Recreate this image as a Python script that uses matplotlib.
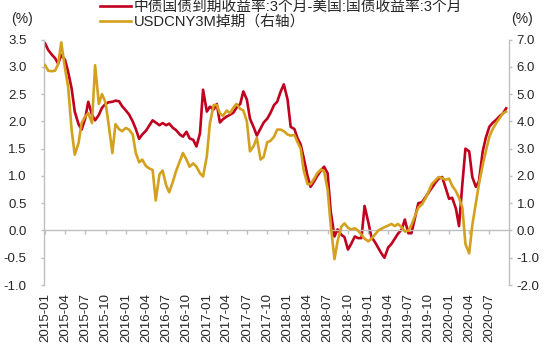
import matplotlib
matplotlib.use("Agg")
import matplotlib.pyplot as plt
import matplotlib.dates as mdates
from matplotlib.ticker import MultipleLocator, FormatStrFormatter
import pandas as pd

plt.rcParams['font.family'] = ['Liberation Sans', 'Noto Sans CJK SC', 'DejaVu Sans']

# 中美3个月国债收益率利差（%，左轴），半月频
spread = [
    3.43, 3.31, 3.22, 3.16, 3.06, 3.22, 3.13, 2.91, 2.60, 2.18,
    1.95, 1.85, 2.05, 2.36, 2.12, 2.02, 2.12, 2.25, 2.32, 2.35,
    2.36, 2.38, 2.37, 2.28, 2.20, 2.13, 2.00, 1.86, 1.68, 1.76,
    1.83, 1.92, 2.02, 1.98, 1.93, 1.97, 1.93, 1.96, 1.88, 1.84,
    1.76, 1.72, 1.81, 1.69, 1.66, 1.54, 1.78, 2.58, 2.18, 2.27,
    2.22, 2.32, 1.98, 2.04, 2.09, 2.12, 2.16, 2.25, 2.32, 2.55,
    2.40, 2.05, 1.89, 1.74, 1.87, 1.98, 2.05, 2.15, 2.30, 2.36,
    2.55, 2.68, 2.40, 1.90, 1.86, 1.69, 1.58, 1.33, 1.00, 0.80,
    0.90, 1.00, 1.10, 1.17, 1.05, 0.35, -0.11, 0.02, -0.08, -0.12,
    -0.35, -0.25, -0.11, -0.14, -0.14, 0.45, 0.15, -0.12, -0.22, -0.32,
    -0.42, -0.50, -0.31, -0.25, -0.15, -0.06, 0.02, 0.20, -0.05, -0.05,
    0.25, 0.50, 0.52, 0.60, 0.70, 0.78, 0.88, 0.95, 0.98, 0.80,
    0.58, 0.60, 0.40, 0.08, 0.85, 1.50, 1.45, 0.98, 0.80, 0.90,
    1.45, 1.70, 1.90, 1.97, 2.03, 2.09, 2.15, 2.24,
]

# USDCNY 3个月掉期（右轴），半月频
swap = [
    6.06, 5.86, 5.84, 5.86, 6.10, 6.90, 5.94, 5.28, 3.68, 2.78,
    3.20, 3.94, 4.18, 4.30, 3.94, 6.06, 4.64, 5.00, 4.70, 3.90,
    2.84, 3.90, 3.72, 3.64, 3.76, 3.70, 3.52, 2.84, 2.50, 2.60,
    2.36, 2.28, 2.22, 1.10, 2.06, 2.20, 1.66, 1.40, 1.80, 2.18,
    2.54, 2.84, 2.60, 2.34, 2.46, 2.34, 2.10, 1.98, 2.72, 3.94,
    4.60, 4.60, 4.30, 4.20, 4.40, 4.30, 4.50, 4.64, 4.46, 4.40,
    4.00, 2.90, 3.10, 3.40, 2.60, 2.70, 3.24, 3.28, 3.44, 3.70,
    3.70, 3.64, 3.52, 3.48, 3.50, 3.24, 3.00, 2.20, 1.70, 1.70,
    1.90, 2.10, 2.24, 2.16, 1.50, 0.20, -1.05, -0.40, 0.14, 0.26,
    0.10, 0.04, 0.08, 0.00, -0.16, -0.30, -0.40, -0.30, -0.14, 0.00,
    0.06, 0.12, 0.18, 0.24, 0.16, 0.24, 0.12, -0.04, 0.00, 0.20,
    0.56, 0.84, 0.96, 1.16, 1.44, 1.70, 1.84, 1.96, 1.92, 1.86,
    1.90, 1.64, 1.44, 1.20, 0.84, -0.50, -0.84, 0.20, 1.00, 1.70,
    2.40, 2.90, 3.44, 3.70, 3.94, 4.10, 4.30, 4.36,
]

dates = pd.date_range("2015-01-01", periods=len(spread), freq="SMS")

label_spread = "中债国债到期收益率:3个月-美国:国债收益率:3个月"
label_swap = "USDCNY3M掉期（右轴）"

RED = "#C0001E"
GOLD = "#D4A11E"
GRID = "#BFBFBF"
TXT = "#262626"

fig = plt.figure(figsize=(5.5, 3.46), dpi=100)
ax = fig.add_axes([0.08, 0.1763, 0.8455, 0.7092])
ax2 = ax.twinx()

l1, = ax.plot(dates, spread, color=RED, lw=1.9)
l2, = ax2.plot(dates, swap, color=GOLD, lw=1.9)

ax.set_ylim(-1.0, 3.5)
ax.yaxis.set_major_locator(MultipleLocator(0.5))
ax.yaxis.set_major_formatter(FormatStrFormatter('%.1f'))
ax2.set_ylim(-2.0, 7.0)
ax2.yaxis.set_major_locator(MultipleLocator(1.0))
ax2.yaxis.set_major_formatter(FormatStrFormatter('%.1f'))

ax.set_xlim(pd.Timestamp("2014-12-27"), pd.Timestamp("2020-09-28"))
ax.xaxis.set_major_locator(mdates.MonthLocator(bymonth=[1, 4, 7, 10]))
ax.xaxis.set_major_formatter(mdates.DateFormatter('%Y-%m'))

for a in (ax, ax2):
    a.spines['top'].set_visible(False)
    for s in a.spines.values():
        s.set_color(GRID)
        s.set_linewidth(1.0)
ax.spines['right'].set_visible(False)
ax2.spines['left'].set_visible(False)
ax2.spines['bottom'].set_visible(False)
ax.spines['bottom'].set_position(('data', 0))

ax.tick_params(axis='x', direction='out', length=3, width=1, color=GRID,
               pad=42, labelsize=9.5, labelcolor=TXT, labelrotation=90)
for lab in ax.get_xticklabels():
    lab.set_verticalalignment('top')
ax.tick_params(axis='y', direction='out', length=2.5, width=1, color=GRID,
               pad=10, labelsize=9.5, labelcolor=TXT)
ax2.tick_params(axis='y', direction='out', length=2.5, width=1, color=GRID,
                pad=3, labelsize=9.5, labelcolor=TXT)

fig.text(22 / 550, 1 - 18.5 / 346, "(%)", ha='center', va='center',
         fontsize=10, color=TXT)
fig.text(522 / 550, 1 - 18.5 / 346, "(%)", ha='center', va='center',
         fontsize=10, color=TXT)

fig.legend([l1, l2], [label_spread, label_swap], loc='upper left',
           bbox_to_anchor=(100 / 550, 1.0), frameon=False, fontsize=10.6,
           handlelength=2.1, handletextpad=0.2, labelspacing=0.1,
           borderpad=0.0, borderaxespad=0.0, labelcolor=TXT)

fig.savefig("out.png", dpi=100)
